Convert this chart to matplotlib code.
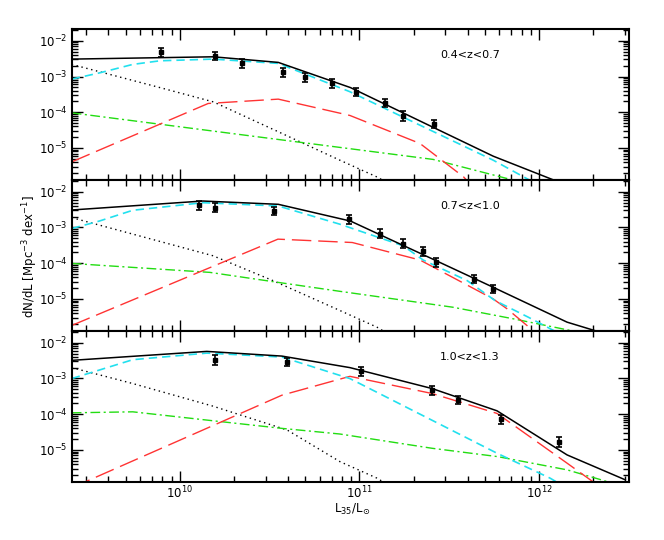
import numpy as np
import matplotlib
matplotlib.use("Agg")
import matplotlib.pyplot as plt
from matplotlib.ticker import FixedLocator, NullFormatter

# redshift bins
labels = ["0.4<z<0.7", "0.7<z<1.0", "1.0<z<1.3"]

# observed points (L, dN/dL, error in dex)
obs_L = [
    [7.83e9, 1.57e10, 2.21e10, 3.75e10, 4.97e10, 7.0e10, 9.52e10, 1.39e11, 1.74e11, 2.61e11],
    [1.28e10, 1.57e10, 3.34e10, 8.73e10, 1.30e11, 1.75e11, 2.27e11, 2.67e11, 4.36e11, 5.52e11],
    [1.57e10, 3.96e10, 1.02e11, 2.55e11, 3.55e11, 6.14e11, 1.29e12],
]
obs_phi = [
    [4.73e-3, 3.8e-3, 2.33e-3, 1.30e-3, 9.4e-4, 6.4e-4, 3.73e-4, 1.83e-4, 7.8e-5, 4.65e-5],
    [4.18e-3, 3.58e-3, 2.90e-3, 1.70e-3, 6.76e-4, 3.56e-4, 2.13e-4, 1.05e-4, 3.63e-5, 1.91e-5],
    [3.21e-3, 2.88e-3, 1.59e-3, 4.69e-4, 2.47e-4, 7.16e-5, 1.64e-5],
]
obs_err = [
    [0.13, 0.12, 0.12, 0.13, 0.12, 0.12, 0.12, 0.12, 0.13, 0.12],
    [0.12, 0.12, 0.12, 0.12, 0.12, 0.12, 0.12, 0.12, 0.12, 0.12],
    [0.14, 0.12, 0.12, 0.12, 0.12, 0.13, 0.14],
]

# model curves, log10 L and log10 dN/dL
tot_x = [
    [9.398, 10.186, 10.548, 10.95, 11.745, 12.06, 12.5],
    [9.398, 10.128, 10.548, 10.95, 11.40, 11.745, 12.156, 12.32, 12.5],
    [9.398, 10.15, 10.568, 10.947, 11.404, 11.766, 12.156, 12.48],
]
tot_y = [
    [-2.513, -2.448, -2.605, -3.31, -5.23, -5.854, -6.72],
    [-2.51, -2.259, -2.351, -2.82, -3.866, -4.674, -5.649, -5.9, -6.24],
    [-2.493, -2.242, -2.373, -2.696, -3.281, -3.905, -5.139, -5.836],
]
cyan_x = [
    [9.398, 9.554, 9.738, 9.889, 10.186, 10.548, 10.947, 11.745, 11.94, 12.2],
    [9.398, 9.554, 9.738, 10.128, 10.548, 10.891, 11.244, 11.355, 11.60, 11.755, 11.94, 12.08, 12.2],
    [9.398, 9.738, 10.15, 10.568, 10.947, 11.766, 12.061, 12.2],
]
cyan_y = [
    [-3.073, -2.897, -2.661, -2.56, -2.513, -2.633, -3.426, -5.342, -5.88, -6.6],
    [-3.03, -2.816, -2.518, -2.306, -2.398, -2.908, -3.513, -3.911, -4.487, -5.045, -5.51, -5.88, -6.2],
    [-3.003, -2.474, -2.29, -2.40, -3.003, -5.092, -5.788, -6.2],
]
dot_x = [
    [9.398, 9.889, 10.186, 10.548, 10.891, 11.097, 11.2],
    [9.398, 10.184, 10.52, 10.891, 11.097, 11.2],
    [9.398, 9.738, 10.184, 10.598, 10.891, 11.097, 11.2],
]
dot_y = [
    [-2.661, -3.31, -3.709, -4.546, -5.342, -5.81, -6.1],
    [-2.724, -3.79, -4.49, -5.323, -5.788, -6.1],
    [-2.696, -3.142, -3.774, -4.443, -5.326, -5.788, -6.1],
]
red_x = [
    [9.398, 10.158, 10.548, 10.947, 11.337, 11.58, 11.65],
    [9.398, 10.546, 10.96, 11.337, 11.744, 11.822, 11.97, 12.0],
    [9.398, 10.568, 10.947, 11.404, 11.766, 12.156, 12.35],
]
red_y = [
    [-5.389, -3.754, -3.633, -4.09, -4.874, -5.81, -6.2],
    [-5.741, -3.326, -3.42, -3.91, -4.997, -5.276, -5.9, -6.05],
    [-6.06, -3.468, -2.94, -3.42, -3.978, -5.37, -6.07],
]
green_x = [
    [9.398, 11.41, 11.822, 12.0],
    [9.398, 10.167, 10.546, 10.891, 11.52, 11.855, 12.173, 12.3],
    [9.398, 9.738, 10.15, 10.568, 10.891, 11.404, 11.77, 12.156, 12.396, 12.45],
]
green_y = [
    [-4.017, -5.32, -5.855, -6.08],
    [-4.006, -4.256, -4.535, -4.786, -5.231, -5.554, -5.88, -6.1],
    [-3.961, -3.933, -4.164, -4.396, -4.554, -4.953, -5.187, -5.557, -5.91, -6.0],
]

# tick marks
x_major = [1e10, 1e11, 1e12]
x_minor = [m * 10.0**d for d in range(9, 13) for m in range(2, 10)]
y_major = [1e-5, 1e-4, 1e-3, 1e-2]
y_minor = [m * 10.0**d for d in range(-7, -1) for m in range(2, 10)]

plt.rcParams['font.family'] = ['DejaVu Sans']
fig = plt.figure(figsize=(6.64, 5.4), dpi=100)
h = 0.2796
axs = [fig.add_axes([0.108, 0.107 + (2 - k) * h, 0.839, h]) for k in range(3)]

for i, ax in enumerate(axs):
    ax.set_xscale('log')
    ax.set_yscale('log')

    ax.plot(10**np.array(dot_x[i]), 10**np.array(dot_y[i]), color='black', lw=1,
            dashes=(1, 2.6))
    ax.plot(10**np.array(green_x[i]), 10**np.array(green_y[i]), color='#22dd11', lw=1,
            dashes=(7, 2.5, 1.5, 2.5))
    ax.plot(10**np.array(red_x[i]), 10**np.array(red_y[i]), color='#ff3333', lw=1,
            dashes=(14, 5))
    ax.plot(10**np.array(cyan_x[i]), 10**np.array(cyan_y[i]), color='#22e0ee', lw=1.2,
            dashes=(5, 3))
    ax.plot(10**np.array(tot_x[i]), 10**np.array(tot_y[i]), color='black', lw=1.1)

    phi = np.array(obs_phi[i])
    e = np.array(obs_err[i])
    yerr = [phi * (1 - 10**-e), phi * (10**e - 1)]
    ax.errorbar(obs_L[i], phi, yerr=yerr, fmt='s', ms=2.5, color='black',
                ecolor='black', elinewidth=1.2, capsize=2.5, capthick=1.2)

    ax.set_xlim(2.5e9, 3.16e12)
    ax.set_ylim(1.25e-6, 0.021)
    ax.xaxis.set_major_locator(FixedLocator(x_major))
    ax.xaxis.set_minor_locator(FixedLocator(x_minor))
    ax.yaxis.set_major_locator(FixedLocator(y_major))
    ax.yaxis.set_minor_locator(FixedLocator(y_minor))
    ax.xaxis.set_minor_formatter(NullFormatter())
    ax.yaxis.set_minor_formatter(NullFormatter())
    ax.tick_params(which='both', direction='in', top=True, right=True, labelsize=8.5)
    ax.tick_params(which='major', length=8, width=1, pad=3)
    ax.tick_params(which='minor', length=4.5, width=1)
    if i < 2:
        ax.tick_params(axis='x', labelbottom=False)
    else:
        ax.tick_params(axis='x', which='major', pad=2)
    for s in ax.spines.values():
        s.set_linewidth(1.5)
    ax.text(0.715, 0.83, labels[i], transform=ax.transAxes, fontsize=8,
            ha='center', va='center')

fig.text(0.045, 0.525, r'dN/dL [Mpc$^{-3}$ dex$^{-1}$]', rotation=90, fontsize=8.5,
         ha='center', va='center')
fig.text(0.53, 0.057, r'L$_{35}$/L$_{\odot}$', fontsize=8.5, ha='center', va='center')

fig.savefig('out.png', dpi=100)
